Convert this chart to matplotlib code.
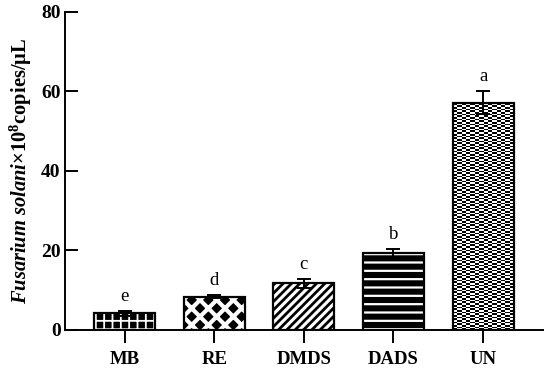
import matplotlib
matplotlib.use("Agg")
import matplotlib.pyplot as plt
import numpy as np

plt.rcParams['font.family'] = ['Liberation Serif', 'DejaVu Serif']
plt.rcParams['mathtext.fontset'] = 'custom'
plt.rcParams['mathtext.rm'] = 'Liberation Serif'
plt.rcParams['mathtext.it'] = 'Liberation Serif:italic'
plt.rcParams['mathtext.bf'] = 'Liberation Serif:bold'
plt.rcParams['mathtext.bfit'] = 'Liberation Serif:italic:bold'

# data
treatments = ['MB', 'RE', 'DMDS', 'DADS', 'UN']
copies = [4.2, 8.4, 11.7, 19.3, 57.2]
errors = [0.6, 0.4, 1.1, 1.0, 2.8]
letters = ['e', 'd', 'c', 'b', 'a']

# fill style per bar: (face colour, hatch colour, hatch, hatch width)
styles = [
    ('black', 'white', '++', 1.3),
    ('black', 'white', 'xx', 3.0),
    ('white', 'black', '////', 2.0),
    ('black', 'white', '--', 1.6),
    (None, None, None, None),  # checkerboard, drawn as image
]

fig = plt.figure(figsize=(5.5, 3.72), dpi=100)
ax = fig.add_axes([0.118, 0.113, 0.869, 0.855])

x = np.arange(len(treatments))
width = 0.68

for i, (xi, v) in enumerate(zip(x, copies)):
    face, hcol, hatch, hlw = styles[i]
    if hatch is not None:
        with plt.rc_context({'hatch.linewidth': hlw}):
            b = ax.bar(xi, v, width, color=face, edgecolor=hcol, hatch=hatch,
                       linewidth=0, zorder=2)
        if hasattr(b[0], 'set_hatch_linewidth'):
            b[0].set_hatch_linewidth(hlw)
    else:
        b = ax.bar(xi, v, width, color='white', linewidth=0, zorder=2)
        rect = b[0]
        x0, y0 = rect.get_x(), rect.get_y()
        w, h = rect.get_width(), rect.get_height()
        # checker cells about 3 px
        p0 = ax.transData.transform((x0, y0))
        p1 = ax.transData.transform((x0 + w, y0 + h))
        nc = max(int(round((p1[0] - p0[0]) / 3.0)), 1)
        nr = max(int(round((p1[1] - p0[1]) / 3.0)), 1)
        checker = (np.add.outer(np.arange(nr), np.arange(nc)) % 2).astype(float)
        im = ax.imshow(checker, cmap='gray', extent=(x0, x0 + w, y0, y0 + h),
                       interpolation='nearest', aspect='auto', zorder=2)
        im.set_clip_path(rect)
    ax.bar(xi, v, width, fill=False, edgecolor='black', linewidth=1.6, zorder=3)

ax.errorbar(x, copies, yerr=errors, fmt='none', ecolor='black',
            elinewidth=1.4, capsize=5, capthick=1.4, zorder=4)

for xi, v, e, t in zip(x, copies, errors, letters):
    ax.text(xi, v + e + 1.6, t, ha='center', va='bottom', fontsize=13.5)

ax.set_xlim(-0.667, len(treatments) - 0.333)
ax.set_ylim(0, 80)
ax.set_yticks([0, 20, 40, 60, 80])
ax.set_xticks(x)
ax.set_xticklabels(treatments, fontsize=13.5, fontweight='bold')
for lab in ax.get_yticklabels():
    lab.set_fontsize(14)
    lab.set_fontweight('bold')

for s in ['top', 'right']:
    ax.spines[s].set_visible(False)
for s in ['left', 'bottom']:
    ax.spines[s].set_linewidth(1.4)

ax.tick_params(axis='y', direction='in', length=9, width=1.4, pad=3)
ax.tick_params(axis='x', direction='out', length=9, width=1.4, pad=6)

ax.set_ylabel(r'$\mathbfit{Fusarium\ solani}$×10$^{\mathbf{8}}$copies/μL',
              fontsize=14.8, fontweight='bold', labelpad=5)

fig.savefig('out.png', dpi=100)
